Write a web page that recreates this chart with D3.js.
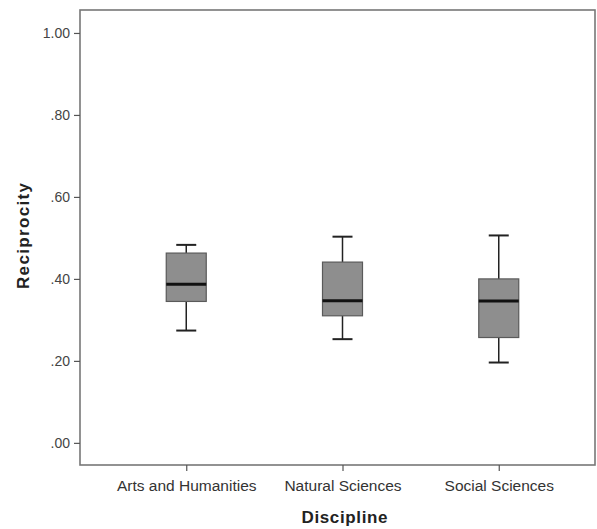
<!DOCTYPE html>
<html>
<head>
<meta charset="utf-8">
<script src="https://cdn.jsdelivr.net/npm/d3@7"></script>
<style>
  body { margin: 0; background: #fff; }
  text { font-family: "Liberation Sans", Arial, sans-serif; }
</style>
</head>
<body>
<div id="chart"></div>
<script>

// box plot summaries
var disciplines = ['Arts and Humanities', 'Natural Sciences', 'Social Sciences'];
var whiskerLow  = [0.274, 0.253, 0.196];
var quartile1   = [0.345, 0.310, 0.257];
var medians     = [0.387, 0.347, 0.346];
var quartile3   = [0.463, 0.441, 0.400];
var whiskerHigh = [0.483, 0.503, 0.506];
var yTicks = [0, 0.2, 0.4, 0.6, 0.8, 1.0];

var width = 597, height = 529;
var plotLeft = 80, plotTop = 10, plotRight = 595, plotBottom = 465;
var boxWidth = 40, capWidth = 20;

var svg = d3.select('#chart').append('svg')
    .attr('width', width)
    .attr('height', height);

var x = d3.scalePoint()
    .domain(disciplines)
    .range([plotLeft, 605])
    .padding(0.68);

var y = d3.scaleLinear()
    .domain([-0.054, 1.056])
    .range([plotBottom, plotTop]);

var fmt = function(d){ return d3.format('.2f')(d).replace(/^0/, ''); };

// frame
svg.append('rect')
    .attr('x', plotLeft)
    .attr('y', plotTop)
    .attr('width', plotRight - plotLeft)
    .attr('height', plotBottom - plotTop)
    .attr('fill', 'none')
    .attr('stroke', '#777')
    .attr('stroke-width', 1.6);

// y axis
var yAxis = svg.append('g')
    .attr('transform', 'translate(' + plotLeft + ',0)')
    .call(d3.axisLeft(y).tickValues(yTicks).tickFormat(fmt).tickSize(6).tickPadding(4));
yAxis.select('.domain').remove();
yAxis.selectAll('line').attr('stroke', '#555').attr('stroke-width', 1.2);
yAxis.selectAll('text')
    .attr('fill', '#444')
    .style('font-size', '14px')
    .style('font-family', '"Liberation Sans", Arial, sans-serif');

// x axis
var xAxis = svg.append('g')
    .attr('transform', 'translate(0,' + plotBottom + ')')
    .call(d3.axisBottom(x).tickSize(6).tickPadding(9));
xAxis.select('.domain').remove();
xAxis.selectAll('line').attr('stroke', '#555').attr('stroke-width', 1.2);
xAxis.selectAll('text')
    .attr('fill', '#333')
    .style('font-size', '15.5px')
    .style('font-family', '"Liberation Sans", Arial, sans-serif');

// boxes
var rows = disciplines.map(function(d, i){
    return { name: d, lo: whiskerLow[i], q1: quartile1[i], med: medians[i], q3: quartile3[i], hi: whiskerHigh[i] };
});

var g = svg.selectAll('g.box')
    .data(rows)
    .enter().append('g')
    .attr('class', 'box')
    .attr('transform', function(d){ return 'translate(' + x(d.name) + ',0)'; });

// whiskers
g.append('line')
    .attr('y1', function(d){ return y(d.hi); })
    .attr('y2', function(d){ return y(d.q3); })
    .attr('stroke', '#222').attr('stroke-width', 1.5);
g.append('line')
    .attr('y1', function(d){ return y(d.q1); })
    .attr('y2', function(d){ return y(d.lo); })
    .attr('stroke', '#222').attr('stroke-width', 1.5);

// caps
g.append('line')
    .attr('x1', -capWidth / 2).attr('x2', capWidth / 2)
    .attr('y1', function(d){ return y(d.hi); })
    .attr('y2', function(d){ return y(d.hi); })
    .attr('stroke', '#222').attr('stroke-width', 2);
g.append('line')
    .attr('x1', -capWidth / 2).attr('x2', capWidth / 2)
    .attr('y1', function(d){ return y(d.lo); })
    .attr('y2', function(d){ return y(d.lo); })
    .attr('stroke', '#222').attr('stroke-width', 2);

g.append('rect')
    .attr('x', -boxWidth / 2)
    .attr('width', boxWidth)
    .attr('y', function(d){ return y(d.q3); })
    .attr('height', function(d){ return y(d.q1) - y(d.q3); })
    .attr('fill', '#8e8e8e')
    .attr('stroke', '#5a5a5a')
    .attr('stroke-width', 1.2);

g.append('line')
    .attr('x1', -boxWidth / 2).attr('x2', boxWidth / 2)
    .attr('y1', function(d){ return y(d.med); })
    .attr('y2', function(d){ return y(d.med); })
    .attr('stroke', '#111').attr('stroke-width', 3);

// axis titles
svg.append('text')
    .attr('x', (plotLeft + plotRight) / 2 + 7)
    .attr('y', 523)
    .attr('text-anchor', 'middle')
    .attr('fill', '#222')
    .attr('textLength', 86)
    .style('font-size', '17px')
    .style('font-weight', 'bold')
    .text('Discipline');

svg.append('text')
    .attr('transform', 'translate(29,236) rotate(-90)')
    .attr('text-anchor', 'middle')
    .attr('fill', '#222')
    .attr('textLength', 106)
    .style('font-size', '17px')
    .style('font-weight', 'bold')
    .text('Reciprocity');

</script>
</body>
</html>
